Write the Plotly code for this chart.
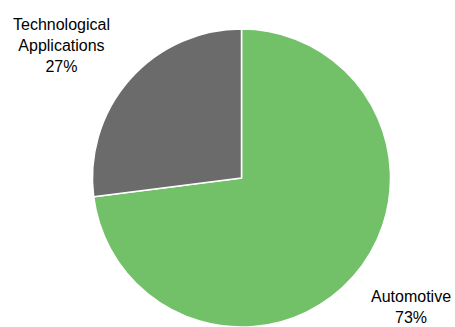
import plotly.graph_objects as go

labels = ["Automotive", "Technological Applications"]
values = [73, 27]
colors = ["#72C169", "#6B6B6B"]
label_text = ["Automotive<br>73%", "Technological<br>Applications<br>27%"]

W, H = 455, 327
cx, cy, r = 241.5, 178, 149

fig = go.Figure(go.Pie(
    labels=labels, values=values, sort=False, direction="clockwise", rotation=0,
    marker=dict(colors=colors, line=dict(color="white", width=1.5)),
    textinfo="none", hoverinfo="label+percent",
    domain=dict(x=[(cx - r) / W, (cx + r) / W], y=[(H - cy - r) / H, (H - cy + r) / H]),
    showlegend=False,
))

font = dict(family="Arial, Liberation Sans", size=16, color="#000000")
fig.add_annotation(text=label_text[1], x=61 / W, y=1 - 45 / H, xref="paper", yref="paper",
                   showarrow=False, xanchor="center", yanchor="middle", font=font)
fig.add_annotation(text=label_text[0], x=411 / W, y=1 - 307 / H, xref="paper", yref="paper",
                   showarrow=False, xanchor="center", yanchor="middle", font=font)

fig.update_layout(width=W, height=H, margin=dict(l=0, r=0, t=0, b=0),
                  paper_bgcolor="white", plot_bgcolor="white")
fig.write_html("out.html", config={"displayModeBar": False},
               post_script="document.body.style.margin='0';document.body.style.overflow='hidden';")
